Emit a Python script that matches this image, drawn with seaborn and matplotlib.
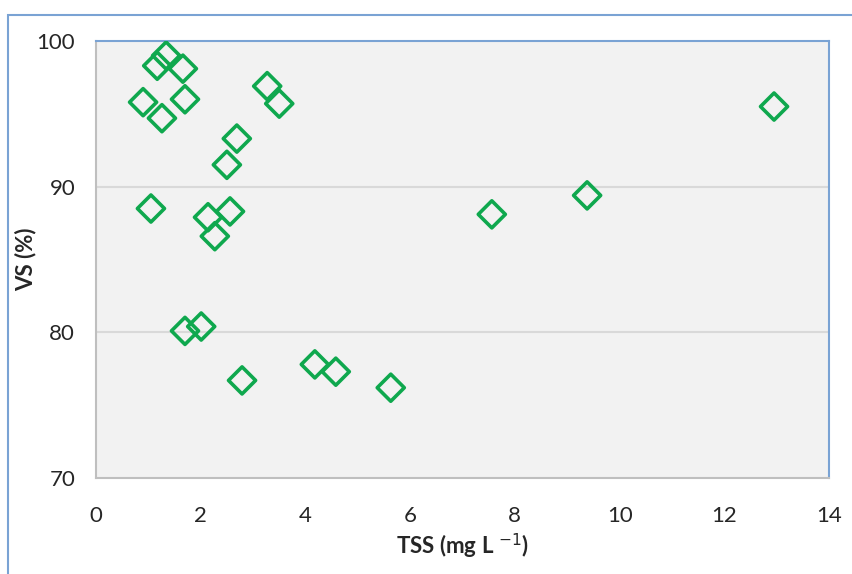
import matplotlib
matplotlib.use('Agg')
import matplotlib.pyplot as plt
from matplotlib.patches import Rectangle
import seaborn as sns
import pandas as pd

# TSS vs VS readings
tss = [0.90, 1.17, 1.34, 1.26, 1.66, 1.70, 1.05, 2.14, 2.56, 2.27, 2.50, 2.69,
       3.27, 3.50, 1.70, 2.01, 2.79, 4.18, 4.58, 5.63, 7.56, 9.38, 12.95]
vs = [95.8, 98.3, 99.0, 94.7, 98.1, 96.0, 88.5, 87.9, 88.3, 86.6, 91.5, 93.3,
      96.9, 95.7, 80.1, 80.4, 76.7, 77.8, 77.3, 76.2, 88.1, 89.4, 95.5]

x_ticks = [0, 2, 4, 6, 8, 10, 12, 14]
y_ticks = [70, 80, 90, 100]

df = pd.DataFrame({'TSS': tss, 'VS': vs})

sns.set_style('white')
plt.rcParams['font.family'] = ['Lato', 'DejaVu Sans']

green = '#0fa84e'
fig = plt.figure(figsize=(8.53, 5.74), dpi=100)
ax = fig.add_axes([0.1125, 0.1672, 0.8594, 0.7614])
ax.set_facecolor('#f2f2f2')

for y in [80, 90]:
    ax.axhline(y, color='#d9d9d9', lw=1.5, zorder=0)

sns.scatterplot(data=df, x='TSS', y='VS', ax=ax, marker='D', s=190,
                facecolors='none', edgecolor=green, linewidth=2.6, zorder=3)

ax.set_xlim(0, 14)
ax.set_ylim(70, 100)
ax.set_xticks(x_ticks)
ax.set_yticks(y_ticks)
ax.tick_params(axis='x', length=5, width=1, color='#bfbfbf', labelsize=16, pad=15)
ax.tick_params(axis='y', length=0, labelsize=16, pad=15)

for s in ['left', 'bottom']:
    ax.spines[s].set_color('#bfbfbf')
    ax.spines[s].set_linewidth(1.5)
for s in ['top', 'right']:
    ax.spines[s].set_color('#7aa3d4')
    ax.spines[s].set_linewidth(1.5)

ax.set_xlabel(r'TSS (mg L $^{-1}$)', fontsize=16, fontweight='bold', labelpad=4)
ax.set_ylabel('VS (%)', fontsize=16, fontweight='bold', labelpad=0)

# outer chart frame (left and top edges visible)
fig.add_artist(Rectangle((0.0094, -0.05), 1.1, 0.024 + 1.0, transform=fig.transFigure,
                         fill=False, edgecolor='#7aa3d4', lw=1.5))

fig.savefig('out.png', dpi=100)
